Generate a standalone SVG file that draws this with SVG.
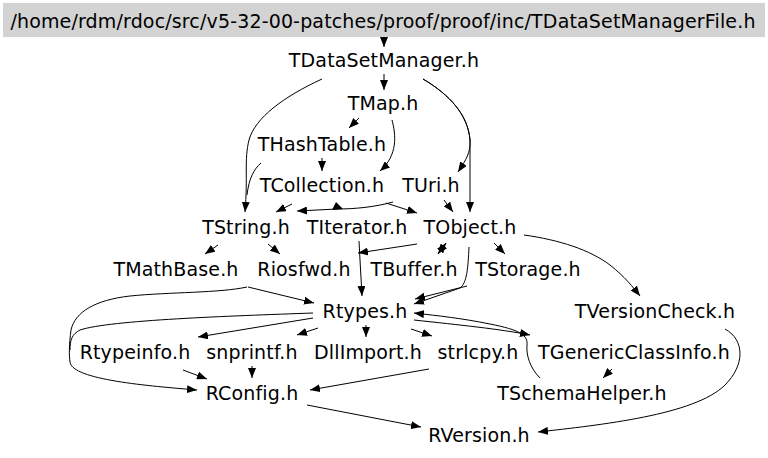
<svg xmlns="http://www.w3.org/2000/svg" width="768" height="458" viewBox="0 0 768 458">
<defs>
<style>
text{font-family:"DejaVu Sans","Liberation Sans",sans-serif;font-size:19px;letter-spacing:0.15px;fill:#000;text-anchor:middle}
.e{fill:none;stroke:#000;stroke-width:1}
.a{marker-end:url(#ah)}
</style>
<marker id="ah" markerUnits="userSpaceOnUse" markerWidth="10" markerHeight="8" refX="10" refY="4" orient="auto" viewBox="0 0 10 8">
<path d="M0,0 L10,4 L0,8 z" fill="#000"/>
</marker>
</defs>
<rect width="768" height="458" fill="#fff"/>
<g id="connectors">
<path class="e a" d="M384,37 L384,47"/>
<path class="e a" d="M384,74 L384,90"/>
<path class="e a" d="M322,79 C283,97 255,118 249,140 C244,160 248,176 245,212"/>
<path class="e" d="M261,163 C254,169 249,178 247,195"/>
<path class="e a" d="M423,79 C450,95 468,115 470,140 C471,152 466,160 458,172"/>
<path class="e a" d="M423,79 C450,95 468,115 470,140 L470,212"/>
<path class="e a" d="M359,118 L349,128"/>
<path class="e a" d="M392,120 C396,135 398,155 380,171"/>
<path class="e a" d="M322,158 L322,171"/>
<path class="e a" d="M292,204 L276,212"/>
<path class="e a" d="M386,203 L417,213"/>
<path class="e a" d="M393,202 C375,207 355,209 337,209 L297,211"/>
<polygon points="336,202 332,210 343,209" fill="#000"/>
<path class="e a" d="M444,200 L453,212"/>
<path class="e a" d="M446,243 L438,254"/>
<path class="e a" d="M438,254 L446,243"/>
<path class="e a" d="M494,243 L505,254"/>
<path class="e a" d="M524,235 C560,240 590,250 610,265 C625,277 633,287 640,296"/>
<path class="e a" d="M469,247 C468,268 467,283 460,288 L414,304"/>
<path class="e a" d="M467,286 L415,299"/>
<path class="e a" d="M417,244 L358,253"/>
<path class="e a" d="M359,241 L360,260 L362,296"/>
<path class="e a" d="M218,245 L205,254"/>
<path class="e a" d="M268,244 L280,254"/>
<path class="e a" d="M248,287 L314,303"/>
<path class="e a" d="M247,287 C220,293 170,292 130,296 C95,300 75,312 71,330 C69,345 69,355 70,362 C72,380 150,386 197,390"/>
<path class="e" d="M313,313 C230,316 110,320 80,330 C72,334 70,340 70,350"/>
<path class="e a" d="M313,318 L198,337"/>
<path class="e a" d="M318,328 L297,335"/>
<path class="e a" d="M366,325 L366,337"/>
<path class="e a" d="M411,329 L432,336"/>
<path class="e a" d="M414,320 C460,325 500,329 530,335"/>
<path class="e a" d="M540,378 C530,368 526,355 527,345 C528,335 520,330 490,324 C460,318 440,316 414,313"/>
<path class="e a" d="M612,369 L603,378"/>
<path class="e a" d="M183,370 L207,379"/>
<path class="e a" d="M252,366 L252,378"/>
<path class="e a" d="M429,369 L310,390"/>
<path class="e a" d="M307,405 L421,427"/>
<path class="e a" d="M725,329 C745,340 745,365 725,385 C695,415 600,425 538,432"/>
</g>
<g id="n_TDataSetManagerFile"><rect x="3" y="3" width="762" height="34" fill="#d3d3d3"/><text x="383" y="28">/home/rdm/rdoc/src/v5-32-00-patches/proof/proof/inc/TDataSetManagerFile.h</text></g>
<g id="n_TDataSetManager"><text x="384" y="67">TDataSetManager.h</text></g>
<g id="n_TMap"><text x="383" y="110">TMap.h</text></g>
<g id="n_THashTable"><text x="322" y="151">THashTable.h</text></g>
<g id="n_TCollection"><text x="322" y="192">TCollection.h</text></g>
<g id="n_TUri"><text x="431" y="192">TUri.h</text></g>
<g id="n_TString"><text x="246" y="234">TString.h</text></g>
<g id="n_TIterator"><text x="357" y="234">TIterator.h</text></g>
<g id="n_TObject"><text x="470" y="234">TObject.h</text></g>
<g id="n_TMathBase"><text x="176" y="276">TMathBase.h</text></g>
<g id="n_Riosfwd"><text x="304" y="276">Riosfwd.h</text></g>
<g id="n_TBuffer"><text x="414" y="276">TBuffer.h</text></g>
<g id="n_TStorage"><text x="528" y="276">TStorage.h</text></g>
<g id="n_Rtypes"><text x="365" y="318">Rtypes.h</text></g>
<g id="n_TVersionCheck"><text x="655" y="318">TVersionCheck.h</text></g>
<g id="n_Rtypeinfo"><text x="135" y="359">Rtypeinfo.h</text></g>
<g id="n_snprintf"><text x="252" y="359">snprintf.h</text></g>
<g id="n_DllImport"><text x="368" y="359">DllImport.h</text></g>
<g id="n_strlcpy"><text x="478" y="359">strlcpy.h</text></g>
<g id="n_TGenericClassInfo"><text x="634" y="359">TGenericClassInfo.h</text></g>
<g id="n_RConfig"><text x="252" y="400">RConfig.h</text></g>
<g id="n_TSchemaHelper"><text x="582" y="400">TSchemaHelper.h</text></g>
<g id="n_RVersion"><text x="479" y="442">RVersion.h</text></g>
</svg>
